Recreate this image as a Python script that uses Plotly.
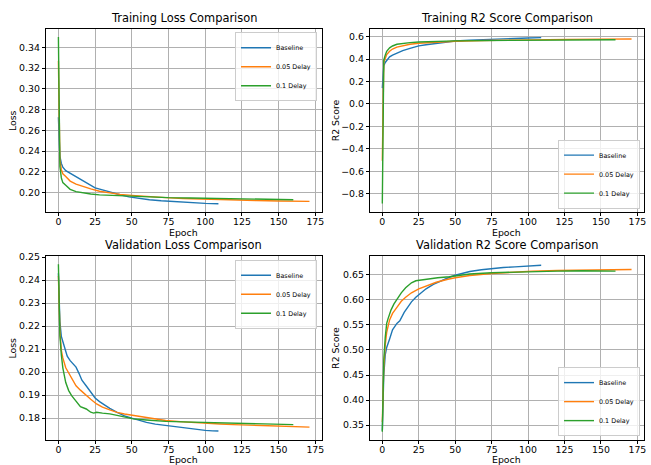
import plotly.graph_objects as go

# ---------------- data ----------------
series_names = ["Baseline", "0.05 Delay", "0.1 Delay"]
series_colors = ["#1f77b4", "#ff7f0e", "#2ca02c"]
x_ticks = [0, 25, 50, 75, 100, 125, 150, 175]

# Training loss
tl_base_ep = [0, 1, 2, 3, 5, 8, 12, 17, 21, 25, 30, 35, 40, 48, 55, 62, 70, 80, 90, 100, 109]
tl_base = [0.2725, 0.235, 0.228, 0.2245, 0.221, 0.2185, 0.215, 0.211, 0.2075, 0.2045, 0.2025,
           0.2003, 0.1985, 0.1957, 0.194, 0.193, 0.192, 0.191, 0.1903, 0.1895, 0.1891]
tl_d05_ep = [0, 1, 2, 3, 5, 8, 12, 17, 22, 28, 35, 42, 50, 60, 73, 85, 96, 110, 120, 135, 150, 160, 171]
tl_d05 = [0.327, 0.232, 0.222, 0.218, 0.2155, 0.211, 0.208, 0.2055, 0.2035, 0.2012, 0.1995, 0.1982,
          0.1972, 0.196, 0.195, 0.1942, 0.1936, 0.1931, 0.1928, 0.1922, 0.1918, 0.1916, 0.1914]
tl_d10_ep = [0, 1, 2, 3, 5, 8, 12, 17, 22, 28, 35, 45, 55, 65, 75, 90, 100, 115, 130, 145, 160]
tl_d10 = [0.35, 0.225, 0.214, 0.2095, 0.207, 0.203, 0.2008, 0.1995, 0.1985, 0.1977, 0.1972, 0.1966,
          0.196, 0.1955, 0.195, 0.1947, 0.1945, 0.1941, 0.1937, 0.1933, 0.193]

# Training R2
tr_base_ep = [0, 1, 2, 3, 5, 7, 10, 14, 19, 25, 30, 38, 45, 50, 60, 75, 90, 100, 109]
tr_base = [0.141, 0.34, 0.37, 0.39, 0.42, 0.435, 0.455, 0.475, 0.495, 0.518, 0.528, 0.54, 0.553,
           0.561, 0.569, 0.578, 0.585, 0.588, 0.591]
tr_d05_ep = [0, 1, 2, 3, 5, 7, 10, 14, 19, 25, 35, 50, 70, 94, 128, 150, 171]
tr_d05 = [-0.506, 0.37, 0.405, 0.44, 0.47, 0.49, 0.507, 0.52, 0.532, 0.541, 0.55, 0.559, 0.566,
          0.572, 0.576, 0.578, 0.579]
tr_d10_ep = [0, 1, 2, 3, 5, 7, 10, 14, 19, 25, 35, 50, 70, 94, 128, 160]
tr_d10 = [-0.888, 0.39, 0.435, 0.47, 0.5, 0.517, 0.532, 0.541, 0.547, 0.553, 0.558, 0.562, 0.565,
          0.567, 0.57, 0.573]

# Validation loss
vl_base_ep = [0, 1, 2, 3, 4, 5, 6, 8, 10, 12, 14, 16, 19, 22, 25, 28, 32, 35, 40, 45, 50, 55, 60,
              66, 73, 80, 87, 95, 100, 105, 109]
vl_base = [0.243, 0.222, 0.2155, 0.2134, 0.211, 0.2085, 0.207, 0.205, 0.2035, 0.2022, 0.1995,
           0.1965, 0.194, 0.1915, 0.1888, 0.1872, 0.1855, 0.1843, 0.1825, 0.181, 0.18, 0.179,
           0.1782, 0.1774, 0.1768, 0.1762, 0.1755, 0.1751, 0.1747, 0.1745, 0.1744]
vl_d05_ep = [0, 1, 2, 3, 5, 7, 9, 12, 15, 19, 22, 26, 30, 35, 40, 45, 51, 60, 73, 85, 96, 110,
             119, 130, 142, 155, 165, 171]
vl_d05 = [0.2418, 0.218, 0.2095, 0.2062, 0.2019, 0.1995, 0.1972, 0.1941, 0.1922, 0.1898, 0.1882,
          0.1862, 0.1848, 0.1836, 0.1825, 0.1818, 0.1812, 0.1802, 0.179, 0.1784, 0.1779, 0.1775,
          0.1772, 0.1769, 0.1766, 0.1764, 0.1762, 0.1761]
vl_d10_ep = [0, 1, 2, 3, 5, 7, 9, 12, 15, 19, 22, 24, 26, 30, 35, 40, 45, 51, 60, 73, 85, 96, 110,
             119, 135, 150, 160]
vl_d10 = [0.2469, 0.216, 0.2075, 0.2019, 0.1955, 0.192, 0.1898, 0.1873, 0.185, 0.184, 0.1826,
          0.1822, 0.1826, 0.1822, 0.1819, 0.1812, 0.1805, 0.1797, 0.1792, 0.1786, 0.1784, 0.1782,
          0.178, 0.1779, 0.1776, 0.1774, 0.1772]

# Validation R2
vr_base_ep = [0, 1, 2, 3, 5, 7, 10, 12, 15, 18, 20, 23, 26, 30, 35, 40, 46, 50, 55, 60, 68, 75,
              83, 91, 100, 105, 109]
vr_base = [0.339, 0.45, 0.49, 0.505, 0.522, 0.54, 0.553, 0.558, 0.575, 0.588, 0.596, 0.605, 0.613,
           0.622, 0.631, 0.638, 0.645, 0.649, 0.653, 0.6566, 0.66, 0.6626, 0.6645, 0.6658,
           0.6675, 0.6685, 0.6691]
vr_d05_ep = [0, 1, 2, 3, 5, 7, 10, 13, 16, 20, 25, 30, 37, 45, 50, 60, 75, 90, 103, 120, 137, 155, 171]
vr_d05 = [0.356, 0.465, 0.51, 0.535, 0.56, 0.573, 0.585, 0.597, 0.605, 0.614, 0.622, 0.628, 0.635,
          0.641, 0.644, 0.6485, 0.6525, 0.655, 0.6573, 0.6585, 0.6593, 0.66, 0.6606]
vr_d10_ep = [0, 1, 2, 3, 4, 6, 8, 10, 13, 16, 20, 23, 26, 30, 38, 46, 50, 60, 75, 90, 103, 120,
             137, 150, 160]
vr_d10 = [0.337, 0.48, 0.525, 0.553, 0.563, 0.58, 0.592, 0.601, 0.614, 0.624, 0.634, 0.638, 0.6395,
          0.641, 0.644, 0.646, 0.648, 0.6515, 0.654, 0.6555, 0.6566, 0.6572, 0.6579, 0.6577, 0.6573]

panel_titles = ["Training Loss Comparison", "Training R2 Score Comparison",
                "Validation Loss Comparison", "Validation R2 Score Comparison"]
panel_ylabels = ["Loss", "R2 Score", "Loss", "R2 Score"]
x_label = "Epoch"

# ---------------- figure ----------------
W, H = 651, 465
FONT = "DejaVu Sans"
TICK = 9.4

panels = [
    [(tl_base_ep, tl_base), (tl_d05_ep, tl_d05), (tl_d10_ep, tl_d10)],
    [(tr_base_ep, tr_base), (tr_d05_ep, tr_d05), (tr_d10_ep, tr_d10)],
    [(vl_base_ep, vl_base), (vl_d05_ep, vl_d05), (vl_d10_ep, vl_d10)],
    [(vr_base_ep, vr_base), (vr_d05_ep, vr_d05), (vr_d10_ep, vr_d10)],
]

# pixel boxes of each axes: (left, right, top, bottom)
boxes = [(46, 323, 24, 209.3), (371, 646, 24, 209.3),
         (46, 323, 254, 439.3), (371, 646, 254, 439.3)]
yranges = [[0.1811, 0.358], [-0.964, 0.6706], [0.1707, 0.2504], [0.3212, 0.6869]]
ydticks = [0.02, 0.2, 0.01, 0.05]
yformats = [".2f", ".1f", ".2f", ".2f"]
ylabel_x = [12.7, 336, 12.7, 337]   # pixel centre of the rotated y labels

fig = go.Figure()
legend_names = ["legend", "legend2", "legend3", "legend4"]

for p, series in enumerate(panels):
    sfx = "" if p == 0 else str(p + 1)
    for s, (ep, vals) in enumerate(series):
        fig.add_trace(go.Scatter(
            x=ep, y=vals, mode="lines", name=series_names[s],
            line=dict(color=series_colors[s], width=1.4),
            xaxis="x" + sfx, yaxis="y" + sfx,
            legend=legend_names[p], showlegend=True,
        ))

layout = dict(
    width=W, height=H,
    margin=dict(l=0, r=0, t=0, b=0),
    paper_bgcolor="white", plot_bgcolor="white",
    font=dict(family=FONT, size=TICK, color="black"),
    annotations=[],
)

for p in range(4):
    sfx = "" if p == 0 else str(p + 1)
    l, r, t, b = boxes[p]
    xdom = [l / W, r / W]
    ydom = [1 - b / H, 1 - t / H]
    common = dict(
        showline=True, mirror=True, linecolor="black", linewidth=1,
        ticks="outside", ticklen=3, tickwidth=0.8, tickcolor="black",
        showgrid=True, gridcolor="#b0b0b0", gridwidth=0.8, zeroline=False,
        tickfont=dict(family=FONT, size=TICK, color="black"),
    )
    layout["xaxis" + sfx] = dict(
        common, domain=xdom, anchor="y" + sfx, range=[-8.55, 179.55],
        tickmode="array", tickvals=x_ticks, ticklabelstandoff=-2,
    )
    layout["yaxis" + sfx] = dict(
        common, domain=ydom, anchor="x" + sfx, range=yranges[p],
        dtick=ydticks[p], tick0=0, tickformat=yformats[p],
    )
    # panel title
    layout["annotations"].append(dict(
        text=panel_titles[p], xref="paper", yref="paper",
        x=(xdom[0] + xdom[1]) / 2, y=ydom[1], xanchor="center", yanchor="bottom",
        yshift=2, showarrow=False, font=dict(family=FONT, size=11.4, color="black"),
    ))
    # x axis label
    layout["annotations"].append(dict(
        text=x_label, xref="paper", yref="paper",
        x=(xdom[0] + xdom[1]) / 2, y=1 - (b + 20.5) / H, xanchor="center", yanchor="middle",
        showarrow=False, borderpad=0, font=dict(family=FONT, size=TICK, color="black"),
    ))
    # y axis label
    layout["annotations"].append(dict(
        text=panel_ylabels[p], xref="paper", yref="paper", textangle=-90,
        x=ylabel_x[p] / W, y=(ydom[0] + ydom[1]) / 2, xanchor="center", yanchor="middle",
        showarrow=False, font=dict(family=FONT, size=TICK, color="black"),
    ))
    # legends: loss panels top-right, R2 panels bottom-right
    if p in (0, 2):
        lg = dict(x=(r - 5) / W, y=1 - (t + 3.5) / H, xanchor="right", yanchor="top")
    else:
        lg = dict(x=(r - 4) / W, y=1 - (b - 3.5) / H, xanchor="right", yanchor="bottom")
    lg.update(bgcolor="rgba(255,255,255,0.8)", bordercolor="#cccccc", borderwidth=1,
              font=dict(family=FONT, size=6.4, color="black"), itemwidth=30,
              tracegroupgap=0)
    layout[legend_names[p]] = lg

fig.update_layout(layout)
fig.write_html("out.html", config={"displayModeBar": False},
               post_script="document.body.style.margin='0';")
